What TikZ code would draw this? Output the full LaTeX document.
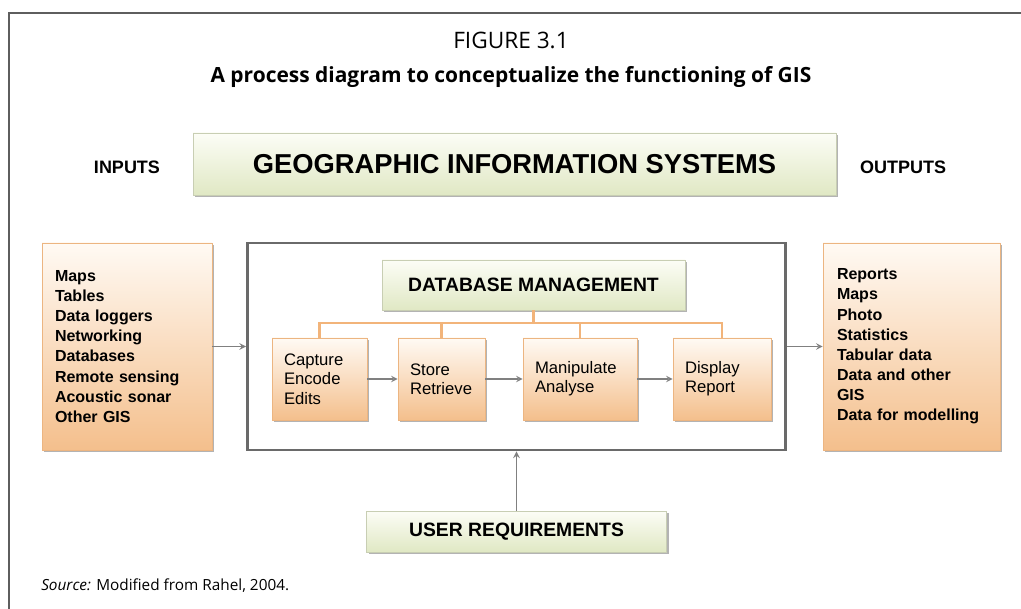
\documentclass[tikz,border=0pt]{standalone}
\usepackage{fontspec}
\setmainfont{Liberation Sans}
\newfontfamily\capfont{Open Sans}
\usetikzlibrary{shadows}
\definecolor{framegray}{HTML}{5E5E5E}
\definecolor{boxgray}{HTML}{6A6A6A}
\definecolor{arrowgray}{HTML}{808080}
\definecolor{orangetop}{HTML}{FFFAF4}
\definecolor{orangebot}{HTML}{F4BF8C}
\definecolor{greentop}{HTML}{FCFDF6}
\definecolor{greenbot}{HTML}{E0E8C4}
\definecolor{treeorange}{HTML}{F2B47A}
\begin{document}
\begin{tikzpicture}
    [x=0.75pt,y=-0.75pt,
     pre/.style={<-,shorten <=0pt,>=stealth,draw=arrowgray,line width=1.2pt},
     tree/.style={draw=treeorange,line width=1.7pt},
     orangebox/.style={draw=orangebot!85!brown,top color=orangetop,bottom color=orangebot,
       drop shadow={shadow xshift=1.5pt,shadow yshift=-1.5pt,opacity=.6}},
     greenbox/.style={draw=greenbot!75!gray,top color=greentop,bottom color=greenbot,
       drop shadow={shadow xshift=1.5pt,shadow yshift=-1.5pt,opacity=.6},
       font=\fontsize{14.5pt}{17pt}\selectfont\bfseries},
     listbox/.style={orangebox,align=left,inner ysep=0pt,minimum height=155.25pt,
       font=\fontsize{12pt}{15.1pt}\selectfont\bfseries},
     procbox/.style={orangebox,align=left,inner xsep=9pt,inner ysep=0pt,minimum height=61.5pt,
       font=\fontsize{12.5pt}{14.5pt}\selectfont},
     heading/.style={font=\fontsize{13.5pt}{16pt}\selectfont\bfseries}]
    \useasboundingbox (0,0) rectangle (1021,609);
    \draw [framegray,line width=1.5pt] (9,609) -- (9,13) -- (1021,13);

    % title
    \node (fig) at (511,40) {\capfont\fontsize{17pt}{20pt}\selectfont FIGURE 3.1};
    \node (cap) at (511,77) {\capfont\fontsize{15.7pt}{19pt}\selectfont\bfseries A process diagram to conceptualize the functioning of GIS};

    \node [greenbox,minimum width=482.25pt,minimum height=46.5pt,font=\fontsize{20.5pt}{24pt}\selectfont\bfseries]
      (gis) at (514.5,164) {GEOGRAPHIC INFORMATION SYSTEMS};
    \node [heading] (in) at (127,167) {INPUTS};
    \node [heading] (out) at (903,167) {OUTPUTS};

    % inputs and the system
    \node [listbox,inner xsep=9.75pt,text width=108pt] (inp) at (127,346.5)
      {Maps\\Tables\\Data loggers\\Networking\\Databases\\Remote sensing\\Acoustic sonar\\Other GIS};
    \node [draw=boxgray,line width=2.2pt,minimum width=403.5pt,minimum height=155.25pt]
      (sys) at (516.5,346.5) {}
      edge [pre] (inp);
    \node [listbox,inner xsep=10.5pt,text width=111.75pt] (outp) at (911.5,346.5)
      {Reports\\Maps\\Photo\\Statistics\\Tabular data\\Data and other\\GIS\\Data for modelling}
      edge [pre] (sys);

    % database management
    \node [greenbox,minimum width=227.25pt,minimum height=37.5pt] (db) at (533.5,285) {DATABASE MANAGEMENT};
    \node [procbox,text width=53.25pt] (cap1) at (319.5,379) {Capture\\Encode\\Edits};
    \node [procbox,text width=47.25pt] (store) at (441.5,379) {Store\\Retrieve}
      edge [pre] (cap1);
    \node [procbox,text width=67.5pt] (manip) at (580,379) {Manipulate\\Analyse}
      edge [pre] (store);
    \node [procbox,text width=55.5pt] (disp) at (722,379) {Display\\Report}
      edge [pre] (manip);
    \coordinate (split) at (533.5,323);
    \draw [tree] (db) -- (split);
    \draw [tree] (cap1.north) |- (split) -| (disp.north);
    \draw [tree] (store.north) -- (store.north |- split);
    \draw [tree] (manip.north) -- (manip.north |- split);

    % user requirements
    \node [greenbox,minimum width=225pt,minimum height=30.75pt] (user) at (516.5,531.5) {USER REQUIREMENTS};
    \draw [pre] (sys) -- (user);

    \node [anchor=west,inner sep=0pt,font=\capfont\fontsize{11.5pt}{14pt}\selectfont] (src) at (41,586)
      {\textit{Source:} Modified from Rahel, 2004.};
  \end{tikzpicture}
\end{document}
